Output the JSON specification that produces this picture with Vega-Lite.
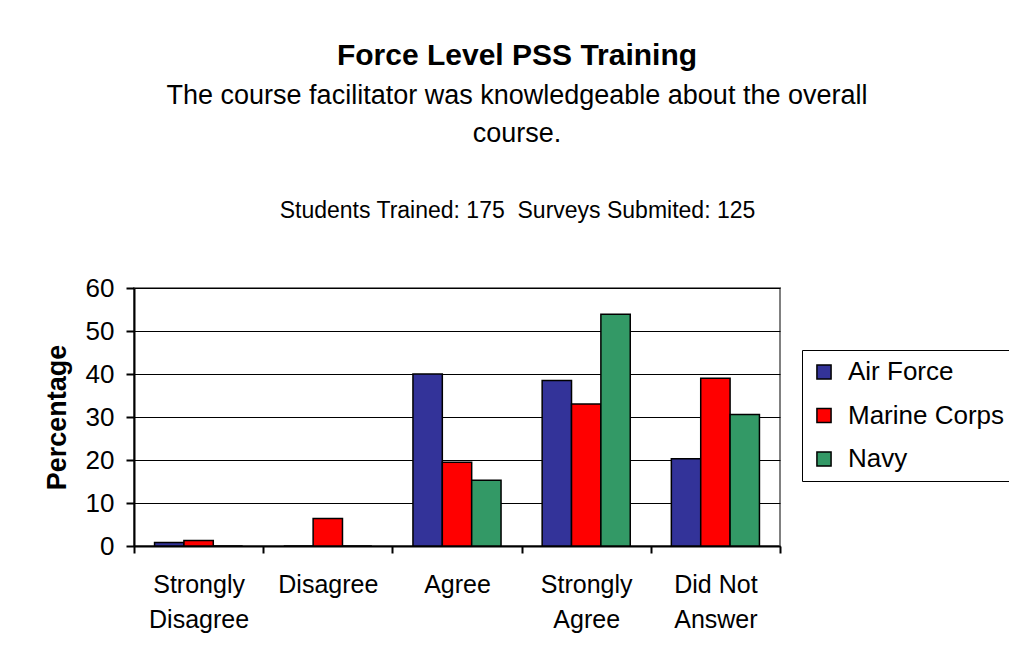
{
  "$schema": "https://vega.github.io/schema/vega-lite/v6.json",
  "autosize": {"type": "none"},
  "width": 646,
  "height": 258,
  "padding": {"left": 134, "top": 288, "right": 229, "bottom": 112},
  "background": "white",
  "config": {
    "font": "Liberation Sans",
    "view": {"stroke": "#808080", "strokeWidth": 2},
    "axis": {"labelFont": "Liberation Sans", "titleFont": "Liberation Sans", "labelColor": "black", "titleColor": "black"}
  },
  "title": {
    "text": "Force Level PSS Training",
    "subtitle": ["The course facilitator was knowledgeable about the overall", "course."],
    "anchor": "middle",
    "frame": "group",
    "dx": 60,
    "font": "Liberation Sans",
    "fontSize": 30,
    "fontWeight": "bold",
    "color": "black",
    "subtitleFont": "Liberation Sans",
    "subtitleFontSize": 27,
    "subtitleColor": "black",
    "subtitleLineHeight": 38,
    "subtitlePadding": 12,
    "offset": 52
  },
  "data": {
    "values": [
      {"response": "Strongly Disagree", "branch": "Air Force", "pct": 0.8},
      {"response": "Strongly Disagree", "branch": "Marine Corps", "pct": 1.3},
      {"response": "Strongly Disagree", "branch": "Navy", "pct": 0},
      {"response": "Disagree", "branch": "Air Force", "pct": 0},
      {"response": "Disagree", "branch": "Marine Corps", "pct": 6.4},
      {"response": "Disagree", "branch": "Navy", "pct": 0},
      {"response": "Agree", "branch": "Air Force", "pct": 40},
      {"response": "Agree", "branch": "Marine Corps", "pct": 19.5},
      {"response": "Agree", "branch": "Navy", "pct": 15.3},
      {"response": "Strongly Agree", "branch": "Air Force", "pct": 38.5},
      {"response": "Strongly Agree", "branch": "Marine Corps", "pct": 33},
      {"response": "Strongly Agree", "branch": "Navy", "pct": 53.9},
      {"response": "Did Not Answer", "branch": "Air Force", "pct": 20.3},
      {"response": "Did Not Answer", "branch": "Marine Corps", "pct": 39},
      {"response": "Did Not Answer", "branch": "Navy", "pct": 30.6}
    ]
  },
  "encoding": {
    "xOffset": {"field": "branch", "type": "nominal", "scale": {"paddingInner": 0, "paddingOuter": 0.7}},
    "y": {
      "field": "pct", "type": "quantitative",
      "scale": {"domain": [0, 60]},
      "axis": {
        "title": "Percentage", "titleFontSize": 27, "titleFontWeight": "bold", "titlePadding": 14,
        "values": [0, 10, 20, 30, 40, 50, 60],
        "labelFontSize": 26, "labelPadding": 12,
        "tickColor": "black", "tickSize": 8, "tickWidth": 2,
        "domainColor": "black", "domainWidth": 2,
        "gridColor": "black", "gridWidth": 1.2, "gridOpacity": 1
      }
    },
    "color": {
      "field": "branch", "type": "nominal",
      "scale": {"domain": ["Air Force", "Marine Corps", "Navy"], "range": ["#333399", "#FF0000", "#339966"]},
      "legend": {
        "title": null, "orient": "none", "legendX": 668, "legendY": 62,
        "symbolType": "square", "symbolSize": 200, "symbolStrokeColor": "black", "symbolStrokeWidth": 1.5, "symbolOpacity": 1,
        "labelFontSize": 26, "labelColor": "black", "labelFont": "Liberation Sans", "labelOffset": 11,
        "rowPadding": 17.5, "padding": 9,
        "strokeColor": "black", "fillColor": "white"
      }
    }
  },
  "layer": [
    {
      "mark": {"type": "bar", "stroke": "black", "strokeWidth": 1.5},
      "encoding": {
        "x": {
          "field": "response", "type": "nominal", "sort": null,
          "scale": {"paddingInner": 0, "paddingOuter": 0},
          "axis": {
            "title": null, "labelAngle": 0, "labelFontSize": 25, "labelPadding": 19, "labelLineHeight": 35,
            "labelExpr": "datum.label == 'Strongly Disagree' ? ['Strongly','Disagree'] : datum.label == 'Strongly Agree' ? ['Strongly','Agree'] : datum.label == 'Did Not Answer' ? ['Did Not','Answer'] : datum.label",
            "tickBand": "extent", "tickColor": "black", "tickSize": 7, "tickWidth": 2,
            "domainColor": "black", "domainWidth": 2, "grid": false
          }
        }
      }
    },
    {
      "mark": {"type": "bar", "opacity": 0},
      "encoding": {
        "x": {
          "field": "response", "type": "nominal", "sort": null,
          "scale": {"paddingInner": 0, "paddingOuter": 0},
          "axis": {
            "orient": "top", "title": "Students Trained: 175\u00a0 Surveys Submited: 125",
            "titleFontSize": 23, "titleFontWeight": "normal", "titleX": 383, "titleY": -66,
            "labels": false, "ticks": false, "domain": false, "grid": false
          }
        }
      }
    }
  ],
  "resolve": {"axis": {"x": "independent"}}
}
